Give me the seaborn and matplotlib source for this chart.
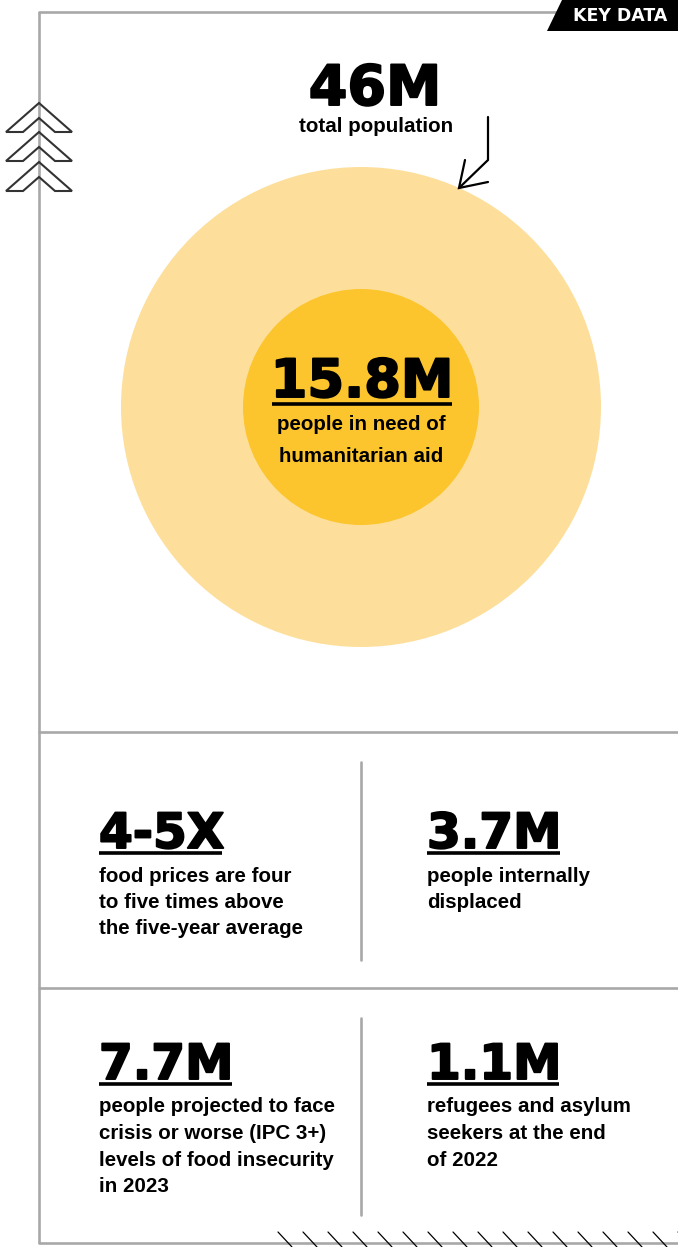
import matplotlib
matplotlib.use("Agg")
import matplotlib.pyplot as plt
import matplotlib.patheffects as pe
import seaborn as sns
from matplotlib.patches import Circle, Polygon

# ---- data ----
total_value = "46M"
total_label = "total population"
need_value = "15.8M"
need_label = ["people in need of", "humanitarian aid"]
population_millions = [46, 15.8]
stat_values = ["4-5X", "3.7M", "7.7M", "1.1M"]
stat_labels = [
    ["food prices are four", "to five times above", "the five-year average"],
    ["people internally", "displaced"],
    ["people projected to face", "crisis or worse (IPC 3+)", "levels of food insecurity", "in 2023"],
    ["refugees and asylum", "seekers at the end", "of 2022"],
]
tag_text = "KEY DATA"

sns.set_theme(style="white")
plt.rcParams["font.family"] = ["DejaVu Sans"]

W, H = 678, 1247
fig = plt.figure(figsize=(W / 100, H / 100), dpi=100)
ax = fig.add_axes([0, 0, 1, 1])
ax.set_xlim(0, W)
ax.set_ylim(H, 0)
ax.axis("off")

grey = "#a8a8a8"
lw_frame = 1.9
heavy = [pe.withStroke(linewidth=1.4, foreground="black")]
BIG = dict(family="DejaVu Sans", weight="bold", color="black", path_effects=heavy)
BODY = dict(family="Liberation Sans", weight="bold", color="black", fontsize=14.8)

# frame
ax.plot([39, 39], [12, 1243], color=grey, lw=lw_frame, solid_capstyle="butt", zorder=1)
ax.plot([39, 556], [12, 12], color=grey, lw=lw_frame, zorder=1)
ax.plot([39, W], [1243, 1243], color=grey, lw=lw_frame, zorder=1)
ax.plot([39, W], [732, 732], color=grey, lw=lw_frame, zorder=1)
ax.plot([39, W], [988, 988], color=grey, lw=lw_frame, zorder=1)
ax.plot([361, 361], [762, 960], color=grey, lw=lw_frame, zorder=1)
ax.plot([361, 361], [1018, 1215], color=grey, lw=lw_frame, zorder=1)

# tag
ax.add_patch(Polygon([(547, 31), (562, 0), (W, 0), (W, 31)], closed=True,
                     facecolor="black", edgecolor="none", zorder=3))
ax.text(573, 16, tag_text, color="white", fontsize=12.5, family="DejaVu Sans",
        weight="bold", ha="left", va="center", zorder=4)

# chevrons
for y0 in [103, 132, 162]:
    pts = [(39, y0), (6, y0 + 29), (23, y0 + 29), (39, y0 + 15), (55, y0 + 29), (72, y0 + 29)]
    ax.add_patch(Polygon(pts, closed=True, facecolor="none", edgecolor="#333333",
                         lw=1.5, joinstyle="miter", zorder=2))

# circles
cx, cy = 361, 407
radii = [240, 118]
colors = ["#fddf9b", "#fcc52d"]
for r, c in zip(radii, colors):
    ax.add_patch(Circle((cx, cy), r, facecolor=c, edgecolor="none", zorder=2))

# top label
ax.text(375, 105, total_value, fontsize=40, ha="center", va="baseline", **BIG)
ax.text(376, 127, total_label, ha="center", va="center", **BODY)

# arrow
ax.plot([488, 488, 459], [117, 160, 188], color="black", lw=1.6, solid_joinstyle="miter", zorder=5)
ax.plot([465, 459, 488], [160, 188, 182], color="black", lw=1.6, solid_joinstyle="miter", zorder=5)

# center label
ax.text(362, 397, need_value, fontsize=38, ha="center", va="baseline", zorder=5, **BIG)
ax.plot([272, 452], [404, 404], color="black", lw=2.6, solid_capstyle="butt", zorder=5)
for i, line in enumerate(need_label):
    ax.text(361, 424 + 33 * i, line, ha="center", va="center", zorder=5, **BODY)

# stat blocks
positions = [(99, 848), (427, 848), (99, 1079), (427, 1079)]
for (x, yb), val, lines in zip(positions, stat_values, stat_labels):
    t = ax.text(x, yb, val, fontsize=35, ha="left", va="baseline", zorder=5, **BIG)
    fig.canvas.draw()
    bb = t.get_window_extent(renderer=fig.canvas.get_renderer())
    ax.plot([x, x + bb.width - 2], [yb + 5, yb + 5], color="black", lw=2.6,
            solid_capstyle="butt", zorder=5)
    for i, line in enumerate(lines):
        ax.text(x, yb + 28 + 26.5 * i, line, ha="left", va="center", zorder=5, **BODY)

# bottom hatch
for x in range(278, W + 1, 25):
    ax.plot([x, x + 14], [1232, 1247], color="black", lw=0.9, zorder=2)

fig.savefig("out.png", dpi=100)
